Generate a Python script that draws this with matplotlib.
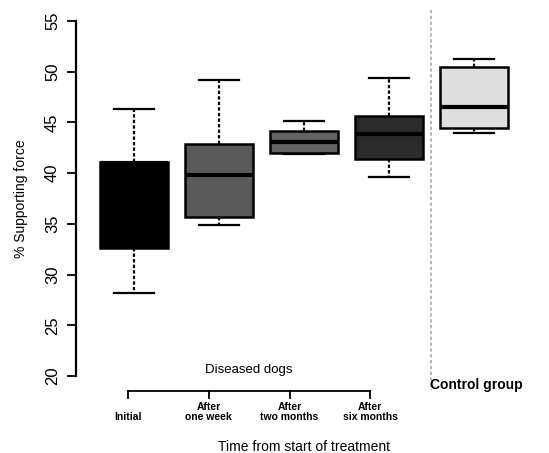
"""
Supporting force (%) in diseased dogs over treatment time vs. a control group.
"""

import numpy as np
import matplotlib.pyplot as plt
from matplotlib import transforms

plt.rcParams["font.family"] = ["Liberation Sans", "DejaVu Sans"]

# Box statistics
groups = ["Initial", "After\none week", "After\ntwo months", "After\nsix months", "Control group"]
q1 = [32.6, 35.7, 42.0, 41.4, 44.45]
med = [41.0, 39.8, 43.1, 43.9, 46.5]
q3 = [41.1, 42.9, 44.15, 45.6, 50.5]
wlo = [28.2, 34.9, 41.9, 39.6, 44.0]
whi = [46.3, 49.2, 45.1, 49.4, 51.25]
fills = ["#000000", "#5a5a5a", "#636363", "#2b2b2b", "#dedede"]
yticks = [20, 25, 30, 35, 40, 45, 50, 55]

stats = [dict(q1=a, med=m, q3=b, whislo=lo, whishi=hi, fliers=[], label=g)
         for a, m, b, lo, hi, g in zip(q1, med, q3, wlo, whi, groups)]
pos = np.arange(1, len(groups) + 1)

fig = plt.figure(figsize=(5.49, 4.53), dpi=100)
ax = fig.add_axes([76 / 549, 77 / 453, 473 / 549, 355 / 453])

bp = ax.bxp(stats, positions=pos, widths=0.8, patch_artist=True, capwidths=0.47,
            boxprops=dict(linewidth=1.8, edgecolor="black"),
            medianprops=dict(color="black", linewidth=3),
            whiskerprops=dict(color="black", linewidth=1.6, linestyle=(0, (1.5, 1))),
            capprops=dict(color="black", linewidth=1.6))
for patch, c in zip(bp["boxes"], fills):
    patch.set_facecolor(c)

ax.set_xlim(1 - 58 / 85, 1 + 415 / 85)
ax.set_ylim(20, 55)
ax.set_yticks(yticks)
ax.set_yticklabels([str(t) for t in yticks], rotation=90, va="center", fontsize=12,
                   family=["Liberation Sans Narrow", "Liberation Sans"])
ax.tick_params(axis="y", length=6.5, width=1.3, pad=5)
ax.set_xticks([])
for s in ["top", "right", "bottom"]:
    ax.spines[s].set_visible(False)
ax.spines["left"].set_linewidth(1.6)
ax.spines["left"].set_bounds(20, 55)
ax.set_ylabel("% Supporting force", fontsize=10, labelpad=12)

# grey divider between diseased dogs and controls
ax.plot([4.5, 4.5], [56.1, 18.6], color="#aaaaaa", linestyle=(0, (2, 1.5)),
        linewidth=1.2, clip_on=False)

# bracket with time labels under the diseased groups
tr = transforms.blended_transform_factory(ax.transData, ax.transAxes)
bx = np.linspace(pos[0] - 0.07, pos[3] - 0.22, 4)
ax.plot([bx[0], bx[-1]], [-0.042, -0.042], color="black", lw=1.3, transform=tr, clip_on=False)
for x, g in zip(bx, groups[:4]):
    ax.plot([x, x], [-0.042, -0.062], color="black", lw=1.3, transform=tr, clip_on=False)
    ax.text(x, -0.13, g, transform=tr, ha="center", va="bottom", fontsize=7.5,
            fontweight="bold", linespacing=1.0)
ax.text(bx.mean(), 0.017, "Diseased dogs", transform=tr, ha="center", va="center",
        fontsize=9.5)
ax.text(pos[4] + 0.03, -0.025, groups[4], transform=tr, ha="center", va="center",
        fontsize=10, fontweight="bold")

fig.text(304 / 549, 6 / 453, "Time from start of treatment", ha="center", va="center",
         fontsize=10)

fig.savefig("out.png", dpi=100)
